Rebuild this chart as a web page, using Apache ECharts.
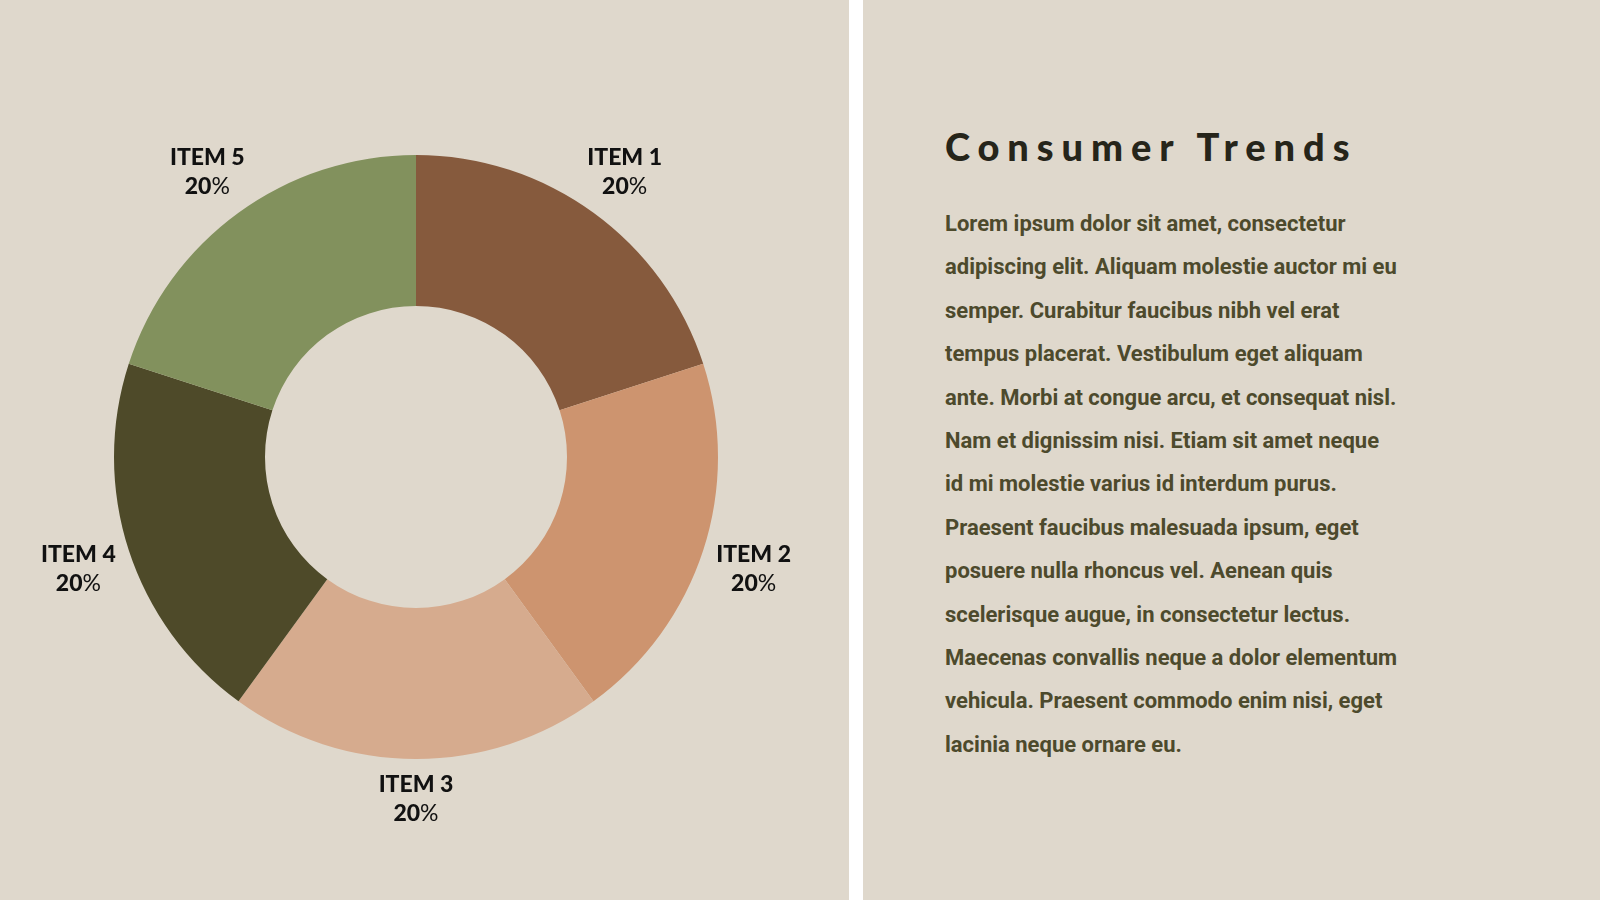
<!DOCTYPE html>
<html>
<head>
<meta charset="utf-8">
<script src="https://cdn.jsdelivr.net/npm/echarts@6/dist/echarts.min.js"></script>
<style>
  html, body { margin: 0; padding: 0; width: 1600px; height: 900px; overflow: hidden; background: #dfd8cc; }
  #chart { position: absolute; left: 0; top: 0; width: 849px; height: 900px; }
  .divider { position: absolute; left: 849px; top: 0; width: 14px; height: 900px; background: #ffffff; }
  .panel { position: absolute; left: 945px; top: 0; }
  .title { position: absolute; top: 122px; left: 0; white-space: nowrap; font-family: Lato, "Open Sans", sans-serif; font-weight: 900; font-size: 38px; line-height: 48px; letter-spacing: 7.9px; color: #26251a; }
  .body { position: absolute; top: 202px; left: 0; white-space: nowrap; font-family: Roboto, sans-serif; font-weight: 700; font-size: 22px; line-height: 43.4px; color: #4d4a2c; }
</style>
</head>
<body>
<div id="chart"></div>
<div class="divider"></div>
<div class="panel">
  <div class="title">Consumer Trends</div>
  <div class="body" id="body"></div>
</div>
<script>
  // 数据
  var items = ['ITEM 1', 'ITEM 2', 'ITEM 3', 'ITEM 4', 'ITEM 5'];
  var shares = [20, 20, 20, 20, 20];
  var colors = ['#865a3d', '#cd946f', '#d6ab8e', '#4e4a29', '#82915d'];

  var bodyLines = [
    'Lorem ipsum dolor sit amet, consectetur',
    'adipiscing elit. Aliquam molestie auctor mi eu',
    'semper. Curabitur faucibus nibh vel erat',
    'tempus placerat. Vestibulum eget aliquam',
    'ante. Morbi at congue arcu, et consequat nisl.',
    'Nam et dignissim nisi. Etiam sit amet neque',
    'id mi molestie varius id interdum purus.',
    'Praesent faucibus malesuada ipsum, eget',
    'posuere nulla rhoncus vel. Aenean quis',
    'scelerisque augue, in consectetur lectus.',
    'Maecenas convallis neque a dolor elementum',
    'vehicula. Praesent commodo enim nisi, eget',
    'lacinia neque ornare eu.'
  ];
  document.getElementById('body').innerHTML = bodyLines.map(function (l) { return '<div>' + l + '</div>'; }).join('');

  var chart = echarts.init(document.getElementById('chart'));

  var center = [416, 457];

  var ringData = items.map(function (name, i) {
    return { name: name, value: shares[i], itemStyle: { color: colors[i] } };
  });
  var labelData = items.map(function (name, i) {
    return { name: name, value: shares[i] };
  });

  var labelFont = 'Lato, "Open Sans", sans-serif';

  var option = {
    backgroundColor: 'transparent',
    animation: false,
    series: [
      {
        type: 'pie',
        center: center,
        radius: [151, 302],
        startAngle: 90,
        clockwise: true,
        silent: true,
        label: { show: false },
        labelLine: { show: false },
        data: ringData
      },
      {
        // 只用来放标签
        type: 'pie',
        center: center,
        radius: [340, 364],
        startAngle: 90,
        clockwise: true,
        silent: true,
        itemStyle: { color: 'rgba(0,0,0,0)' },
        labelLine: { show: false },
        label: {
          show: true,
          position: 'inside',
          formatter: function (p) {
            return '{n|' + p.name + '}\n{v|' + Math.round(p.percent) + '}{p|%}';
          },
          rich: {
            n: { fontFamily: labelFont, fontWeight: 900, fontSize: 23, color: '#111', lineHeight: 29, align: 'center' },
            v: { fontFamily: labelFont, fontWeight: 900, fontSize: 23, color: '#111', lineHeight: 29 },
            p: { fontFamily: labelFont, fontWeight: 400, fontSize: 23, color: '#111', lineHeight: 29 }
          }
        },
        labelLayout: function (params) {
          var r = params.labelRect;
          var cx = r.x + r.width / 2;
          var cy = r.y + r.height / 2;
          // 正下方的标签更靠近圆环
          if (Math.abs(cx - center[0]) < 50 && cy > center[1]) {
            return { y: cy - 13 };
          }
          return { y: cy + 2 };
        },
        data: labelData
      }
    ]
  };

  chart.setOption(option);
</script>
</body>
</html>
